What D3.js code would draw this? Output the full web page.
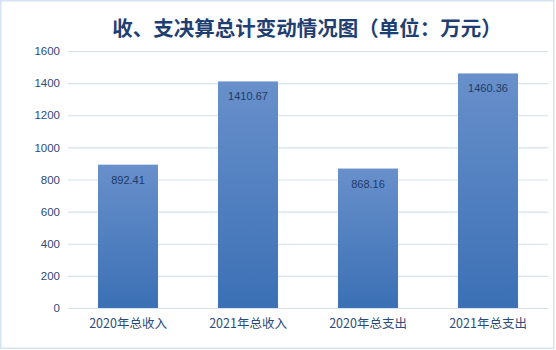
<!DOCTYPE html>
<html>
<head>
<meta charset="utf-8">
<script src="https://cdn.jsdelivr.net/npm/d3@7/dist/d3.min.js"></script>
<style>
  html, body { margin: 0; padding: 0; background: #fff; }
  svg { display: block; font-family: "Noto Sans CJK SC", "Noto Sans", sans-serif; }
</style>
</head>
<body>
<svg id="chart" width="556" height="350"></svg>
<script>
// Budget totals (万元)
const categories = ["2020年总收入", "2021年总收入", "2020年总支出", "2021年总支出"];
const values = [892.41, 1410.67, 868.16, 1460.36];
const yTicks = [0, 200, 400, 600, 800, 1000, 1200, 1400, 1600];
const titleText = "收、支决算总计变动情况图（单位：万元）";

const svg = d3.select("#chart");

// outer frame
svg.append("rect")
  .attr("x", 0.75).attr("y", 0.75)
  .attr("width", 553).attr("height", 347.5)
  .attr("fill", "#fff")
  .attr("stroke", "#d5e2f1").attr("stroke-width", 1.5);

const x = d3.scaleBand()
  .domain(categories)
  .range([68, 548])
  .paddingInner(0.5).paddingOuter(0.25);

const y = d3.scaleLinear().domain([0, 1600]).range([308, 51]);

// bar gradient
const defs = svg.append("defs");
const grad = defs.append("linearGradient")
  .attr("id", "barGrad").attr("x1", 0).attr("y1", 0).attr("x2", 0).attr("y2", 1);
grad.append("stop").attr("offset", "0%").attr("stop-color", "#6890cb");
grad.append("stop").attr("offset", "100%").attr("stop-color", "#3b70b5");

// gridlines
svg.append("g")
  .attr("transform", "translate(68,0)")
  .call(d3.axisLeft(y).tickValues(yTicks).tickSize(-480).tickFormat(""))
  .call(g => g.select(".domain").remove())
  .call(g => g.selectAll("line").attr("stroke", "#d3e1f0").attr("stroke-width", 1.2));

// y tick labels
svg.append("g")
  .attr("transform", "translate(68,0)")
  .call(d3.axisLeft(y).tickValues(yTicks).tickSize(0).tickPadding(8).tickFormat(d3.format("d")))
  .call(g => g.select(".domain").remove())
  .call(g => g.selectAll("text")
    .attr("fill", "#2d4a78")
    .attr("font-size", "11.5px")
    .attr("font-family", "'Liberation Sans', Arial, sans-serif"));

// bars
svg.append("g").selectAll("rect")
  .data(values)
  .join("rect")
  .attr("x", (d, i) => x(categories[i]))
  .attr("y", d => y(d))
  .attr("width", x.bandwidth())
  .attr("height", d => y(0) - y(d))
  .attr("fill", "url(#barGrad)");

// value labels inside bars
svg.append("g").selectAll("text")
  .data(values)
  .join("text")
  .attr("x", (d, i) => x(categories[i]) + x.bandwidth() / 2)
  .attr("y", d => y(d) + 19)
  .attr("text-anchor", "middle")
  .attr("font-size", "11px")
  .attr("font-family", "'Liberation Sans', Arial, sans-serif")
  .attr("fill", "#1f3a68")
  .text(d => d.toFixed(2));

// x axis
svg.append("g")
  .attr("transform", "translate(0,308)")
  .call(d3.axisBottom(x).tickSize(0).tickPadding(11))
  .call(g => g.select(".domain").attr("stroke", "#d3e1f0").attr("stroke-width", 1.2))
  .call(g => g.selectAll("text")
    .attr("fill", "#2d4a78")
    .attr("font-size", "12.5px")
    .attr("font-family", "'Noto Sans CJK SC', sans-serif"));

// title
svg.append("text")
  .attr("x", 307).attr("y", 36)
  .attr("text-anchor", "middle")
  .attr("font-size", "20.5px")
  .attr("font-weight", "bold")
  .attr("fill", "#1f3f73")
  .attr("font-family", "'Noto Sans CJK SC', sans-serif")
  .text(titleText);
</script>
</body>
</html>
